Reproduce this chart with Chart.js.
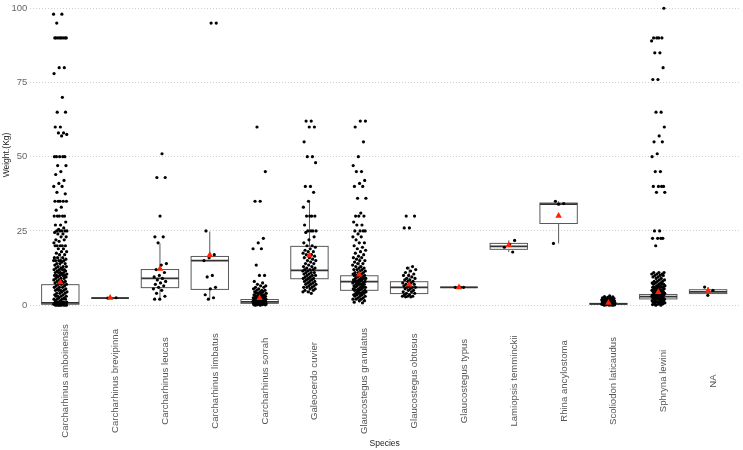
<!DOCTYPE html>
<html>
<head>
<meta charset="utf-8">
<script src="https://cdn.jsdelivr.net/npm/chart.js@4.4.1/dist/chart.umd.min.js"></script>
<style>
  html, body { margin: 0; padding: 0; background: #fff; }
</style>
</head>
<body>
<canvas id="chart" width="743" height="450"></canvas>
<script>
// Weight by species: boxplot + jittered points + mean triangle

const species = [
    'Carcharhinus amboinensis', 'Carcharhinus brevipinna', 'Carcharhinus leucas',
    'Carcharhinus limbatus', 'Carcharhinus sorrah', 'Galeocerdo cuvier',
    'Glaucostegus granulatus', 'Glaucostegus obtusus', 'Glaucostegus typus',
    'Lamiopsis temminckii', 'Rhina ancylostoma', 'Scoliodon laticaudus',
    'Sphryna lewini', 'NA'
];
const yTicks = [0, 25, 50, 75, 100];

// box stats
const q1          = [0.3, 2.4, 5.9, 5.3, 0.6, 8.9, 5.0, 3.9, 6.0, 18.8, 27.5, 0.3, 2.1, 3.9];
const medians     = [0.8, 2.4, 9.0, 15.0, 1.1, 11.7, 7.9, 6.0, 6.0, 19.8, 34.0, 0.4, 2.9, 4.5];
const q3          = [6.9, 2.4, 12.0, 16.4, 1.9, 19.8, 9.9, 7.9, 6.0, 20.8, 34.4, 0.6, 3.6, 5.2];
const whiskerLow  = [0, 2.4, 2.0, 2.0, 0, 4.1, 0.8, 2.8, 6.0, 17.9, 20.8, 0, 0, 3.3];
const whiskerHigh = [16.5, 2.4, 20.8, 24.8, 3.8, 34.9, 16.0, 13.0, 6.0, 21.8, 35.0, 1.0, 5.8, 6.1];
const means       = [7.7, 2.5, 12.2, 16.9, 2.4, 16.7, 10.3, 6.9, 6.0, 20.2, 30.1, 0.8, 4.4, 4.9];

// individual weights
const amboinensis = [98, 98, 95, 90, 90, 90, 90, 90, 90, 90, 90, 80, 80, 78, 70, 65, 65, 60, 60, 58, 58,
    57.5, 57, 50, 50, 50, 50, 50, 47, 47, 45, 44, 42, 41, 40, 40, 38, 37.5, 35, 35, 35, 35, 35, 33, 32,
    30, 30, 30, 30, 30, 28, 27, 27, 26, 25.5, 25, 25, 25, 25, 25, 24.5, 24, 24, 23, 23, 22, 22, 21.5,
    21, 20, 20, 20, 20, 20, 19, 19, 18, 18, 17.5, 17, 17, 16, 16, 16, 15.5, 15, 15, 15, 15, 15, 14.5,
    14, 14, 14, 13.5, 13, 13, 13, 12.5, 12.5, 12, 12, 12, 12, 11.5, 11.5, 11, 11, 11, 11, 10.5, 10.5,
    10, 10, 10, 10, 10, 9.5, 9.5, 9, 9, 9, 8.5, 8.5, 8, 8, 8, 8, 7.5, 7.5, 7, 7, 7, 6.5, 6.5, 6, 6, 6,
    5.5, 5.5, 5, 5, 5, 5, 4.5, 4.5, 4, 4, 4, 3.5, 3.5, 3, 3, 3, 3, 2.5, 2.5, 2, 2, 2, 2, 1.5, 1.5, 1,
    1, 1, 1, 1, 0.8, 0.8, 0.6, 0.5, 0.5, 0.5, 0.5, 0.4, 0.3, 0.3, 0.3, 0.2, 0.2, 0.2, 0.1, 0.1, 0.1,
    0, 0, 0, 0, 0, 0];
const brevipinna = [2.4, 2.5];
const leucas = [51, 43, 43, 30, 23, 23, 21, 14, 13.5, 12, 11, 10, 9.5, 9, 8.5, 8, 7.5, 7, 6.5, 6, 5.5, 5, 4, 3, 2, 2];
const limbatus = [95, 95, 25, 17, 16, 15, 10, 9.5, 6, 5.5, 3.5, 2.5, 2];
const sorrah = [60, 45, 35, 35, 22.5, 21, 19, 19, 13.5, 10, 10, 8, 7.5, 7, 6.5, 6.5, 6, 6, 5.5, 5.5, 5,
    5, 5, 4.5, 4.5, 4.5, 4, 4, 4, 4, 3.5, 3.5, 3.5, 3.5, 3, 3, 3, 3, 3, 2.8, 2.5, 2.5, 2.5, 2.5, 2.3,
    2.2, 2, 2, 2, 2, 2, 1.8, 1.8, 1.6, 1.5, 1.5, 1.5, 1.5, 1.4, 1.3, 1.2, 1.2, 1.2, 1.1, 1, 1, 1, 1, 1,
    0.9, 0.9, 0.8, 0.8, 0.8, 0.7, 0.7, 0.6, 0.6, 0.6, 0.5, 0.5, 0.5, 0.4, 0.4, 0.3, 0.3, 0.3, 0.2, 0.2,
    0.1, 0.1, 0, 0];
const galeocerdo = [62, 62, 60, 60, 55, 50, 50, 48, 40, 40, 38, 35, 33, 30, 30, 30, 30, 27, 25, 25, 25, 25,
    24.5, 23, 22, 21, 20, 20, 19.5, 19, 18.5, 18, 18, 17.5, 17, 17, 16.5, 16, 16, 15.5, 15, 15, 14.5, 14,
    14, 13.5, 13, 13, 12.5, 12.5, 12, 12, 12, 11.5, 11.5, 11, 11, 11, 10.5, 10.5, 10, 10, 10, 9.5, 9.5,
    9, 9, 9, 8.5, 8.5, 8, 8, 8, 7.5, 7.5, 7, 7, 7, 6.5, 6.5, 6, 6, 6, 5.5, 5.5, 5, 5, 4.5, 4.5, 4];
const granulatus = [62, 62, 60, 55, 50, 47, 45, 45, 42, 41, 40, 40, 36, 36, 31, 30, 30, 30, 28, 27, 27,
    25, 25, 25, 25, 24, 23, 23, 22, 21, 21, 20, 19.5, 19, 18.5, 18, 17.5, 17, 16.5, 16, 16, 15.5, 15, 15,
    14.5, 14, 14, 13.5, 13, 13, 12.5, 12.5, 12, 12, 12, 11.5, 11.5, 11, 11, 11, 10.5, 10.5, 10, 10, 10,
    10, 9.5, 9.5, 9, 9, 9, 9, 8.5, 8.5, 8.5, 8, 8, 8, 8, 7.5, 7.5, 7.5, 7, 7, 7, 7, 6.5, 6.5, 6.5, 6, 6,
    6, 6, 5.5, 5.5, 5.5, 5, 5, 5, 5, 4.5, 4.5, 4.5, 4, 4, 4, 4, 3.5, 3.5, 3.5, 3, 3, 3, 2.5, 2.5, 2, 2,
    2, 1.5, 1.5, 1, 0.8];
const obtusus = [30, 30, 26, 26, 13, 12.5, 12, 11.5, 11, 10.5, 10, 10, 9.5, 9, 9, 8.5, 8.5, 8, 8, 7.5, 7.5,
    7, 7, 6.5, 6.5, 6, 6, 6, 5.5, 5.5, 5, 5, 4.5, 4.5, 4, 4, 3.5, 3.5, 3, 3, 3, 2.8, 2.8];
const typus = [6, 6, 6];
const lamiopsis = [21.8, 20.5, 19.5, 17.9];
const rhina = [35, 34.2, 34, 20.8];
const scoliodon = [3.1, 2.9, 2.8, 2.6, 2.5, 2.4, 2.3, 2.2, 2.1, 2, 2, 1.9, 1.8, 1.8, 1.7, 1.6, 1.6, 1.5,
    1.5, 1.4, 1.4, 1.3, 1.3, 1.2, 1.2, 1.1, 1.1, 1, 1, 1, 0.9, 0.9, 0.8, 0.8, 0.8, 0.7, 0.7, 0.6, 0.6,
    0.6, 0.5, 0.5, 0.5, 0.4, 0.4, 0.4, 0.3, 0.3, 0.3, 0.2, 0.2, 0.2, 0.1, 0.1, 0.1, 0, 0, 0];
const sphyrna = [100, 90, 90, 90, 90, 89, 85, 85, 80, 76, 76, 65, 65, 60, 57, 55, 55, 51, 50, 45, 45, 40,
    40, 40, 40, 38, 38, 25, 25, 22.5, 22.5, 22.5, 22.5, 20, 11, 11, 11, 10.5, 10.5, 10.5, 10, 10, 10,
    9.5, 9.5, 9, 9, 8.5, 8.5, 8, 8, 8, 7.5, 7.5, 7.5, 7, 7, 7, 7, 6.5, 6.5, 6.5, 6, 6, 6, 6, 6, 5.5, 5.5,
    5.5, 5.5, 5, 5, 5, 5, 5, 4.5, 4.5, 4.5, 4.5, 4.5, 4, 4, 4, 4, 4, 3.5, 3.5, 3.5, 3.5, 3.5, 3, 3, 3, 3,
    3, 3, 2.5, 2.5, 2.5, 2.5, 2.5, 2, 2, 2, 2, 2, 1.5, 1.5, 1.5, 1.5, 1, 1, 1, 1, 0.8, 0.5, 0.5, 0.5,
    0.3, 0.2, 0, 0];
const naWeights = [6.1, 5, 3.3];

const weights = [amboinensis, brevipinna, leucas, limbatus, sorrah, galeocerdo, granulatus,
    obtusus, typus, lamiopsis, rhina, scoliodon, sphyrna, naWeights];

const FONT = "'Liberation Sans', Arial, sans-serif";

// spread points sideways a little (fixed, repeatable offsets)
function jitter(k) {
    return ((k * 0.6180339887) % 1 - 0.5) * 0.27;
}

const pointData = [];
weights.forEach(function(list, i) {
    list.forEach(function(w, k) {
        pointData.push({ x: i + jitter(k + i * 7), y: w });
    });
});
const meanData = means.map(function(m, i) { return { x: i, y: m }; });

// boxes, whiskers and medians, drawn under the points
const boxPlugin = {
    id: 'boxes',
    beforeDatasetsDraw(chart) {
        const ctx = chart.ctx;
        const xs = chart.scales.x;
        const ys = chart.scales.y;
        ctx.save();
        species.forEach(function(s, i) {
            const left = xs.getPixelForValue(i - 0.375);
            const right = xs.getPixelForValue(i + 0.375);
            const cx = xs.getPixelForValue(i);
            const top = ys.getPixelForValue(q3[i]);
            const bottom = ys.getPixelForValue(q1[i]);

            ctx.strokeStyle = '#5a5a5a';
            ctx.lineWidth = 1;
            ctx.beginPath();
            ctx.moveTo(cx, top);
            ctx.lineTo(cx, ys.getPixelForValue(whiskerHigh[i]));
            ctx.moveTo(cx, bottom);
            ctx.lineTo(cx, ys.getPixelForValue(whiskerLow[i]));
            ctx.stroke();

            ctx.fillStyle = '#fff';
            ctx.fillRect(left, top, right - left, bottom - top);
            ctx.strokeRect(left, top, right - left, bottom - top);

            ctx.strokeStyle = '#333';
            ctx.lineWidth = 1.8;
            ctx.beginPath();
            const my = ys.getPixelForValue(medians[i]);
            ctx.moveTo(left, my);
            ctx.lineTo(right, my);
            ctx.stroke();
        });
        ctx.restore();
    }
};

// axis text drawn by hand so it sits where the reference has it
const textPlugin = {
    id: 'axisText',
    afterDraw(chart) {
        const ctx = chart.ctx;
        const xs = chart.scales.x;
        const ys = chart.scales.y;
        const area = chart.chartArea;
        ctx.save();

        ctx.fillStyle = '#666';
        ctx.font = '9.5px ' + FONT;
        ctx.textAlign = 'right';
        ctx.textBaseline = 'middle';
        yTicks.forEach(function(t) {
            ctx.fillText(String(t), area.left - 3, ys.getPixelForValue(t));
        });

        ctx.fillStyle = '#555';
        ctx.font = '9.6px ' + FONT;
        ctx.textAlign = 'center';
        ctx.textBaseline = 'alphabetic';
        species.forEach(function(s, i) {
            ctx.save();
            ctx.translate(xs.getPixelForValue(i) + 8, 381);
            ctx.rotate(-Math.PI / 2);
            ctx.fillText(s, 0, 0);
            ctx.restore();
        });

        ctx.fillStyle = '#222';
        ctx.font = '8.5px ' + FONT;
        ctx.fillText('Species', (area.left + area.right) / 2, 446);

        ctx.save();
        ctx.translate(8.5, 155);
        ctx.rotate(-Math.PI / 2);
        ctx.fillText('Weight.(Kg)', 0, 0);
        ctx.restore();

        ctx.restore();
    }
};

new Chart(document.getElementById('chart'), {
    type: 'scatter',
    data: {
        datasets: [
            {
                label: 'Weight',
                data: pointData,
                pointRadius: 1.6,
                pointBackgroundColor: '#000',
                pointBorderWidth: 0,
                order: 2
            },
            {
                label: 'Mean',
                data: meanData,
                pointStyle: 'triangle',
                pointRadius: 3.8,
                pointBackgroundColor: '#ff2200',
                pointBorderWidth: 0,
                order: 1
            }
        ]
    },
    options: {
        responsive: false,
        animation: false,
        devicePixelRatio: 1,
        layout: { padding: 0 },
        plugins: {
            legend: { display: false },
            tooltip: { enabled: false }
        },
        scales: {
            x: {
                type: 'linear',
                min: -0.6,
                max: 13.62,
                grid: { display: false },
                border: { display: false },
                ticks: { display: false },
                afterFit: function(scale) { scale.height = 130; }
            },
            y: {
                min: -5,
                max: 101.43,
                afterBuildTicks: function(axis) {
                    axis.ticks = yTicks.map(function(v) { return { value: v }; });
                },
                grid: { color: '#cfcfcf', lineWidth: 1, drawTicks: false },
                border: { display: false, dash: [1, 2] },
                ticks: { display: false },
                afterFit: function(scale) { scale.width = 30.4; }
            }
        }
    },
    plugins: [boxPlugin, textPlugin]
});
</script>
</body>
</html>
